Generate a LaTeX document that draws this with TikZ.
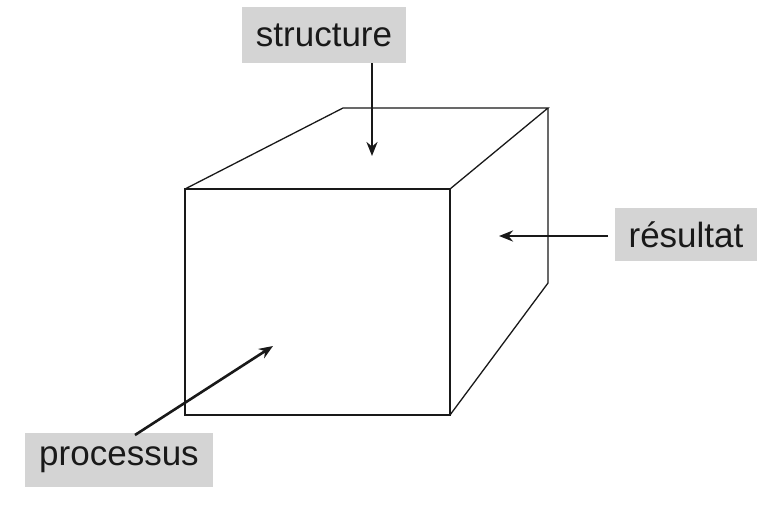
\documentclass[tikz,border=0pt]{standalone}
\usepackage{fontspec}
\setmainfont{Liberation Sans}
\usetikzlibrary{arrows.meta}
\definecolor{labelgray}{HTML}{D4D4D4}
\begin{document}
\begin{tikzpicture}[x=1pt,y=-1pt,
  edge/.style={line width=1.3pt,draw=black!90},
  lab/.style={fill=labelgray,inner sep=0pt,font=\fontsize{35}{40}\selectfont,text=black!90},
  arr/.style={line width=2.6pt,draw=black!90,-{Stealth[length=14pt,width=11pt]}}]
\useasboundingbox (0,0) rectangle (767,508);
% cube corners
\coordinate (A) at (185,189);
\coordinate (B) at (450,189);
\coordinate (C) at (450,415);
\coordinate (D) at (185,415);
\coordinate (E) at (343,108);
\coordinate (F) at (548,108);
\coordinate (G) at (548,283);
\draw[edge] (A) -- (B) -- (C) -- (D) -- cycle;
\draw[edge] (A) -- (E) -- (F) -- (B);
\draw[edge] (F) -- (G) -- (C);
% labels
\node[lab,minimum width=164pt,minimum height=56pt] (s) at (324,35) {structure};
\node[lab,minimum width=142pt,minimum height=53pt] (r) at (686,234.5) {résultat};
\node[lab,minimum width=188pt,minimum height=54pt] (p) at (119,460) {processus};
% arrow ends
\coordinate (st) at (372,156);
\coordinate (rt) at (499,236);
\coordinate (rs) at (608,236);
\coordinate (ps) at (135,435);
\coordinate (pt) at (273,346);
\draw[arr] (s.south -| st) -- (st);
\draw[arr] (rs) -- (rt);
\draw[arr] (ps) -- (pt);
\end{tikzpicture}
\end{document}
